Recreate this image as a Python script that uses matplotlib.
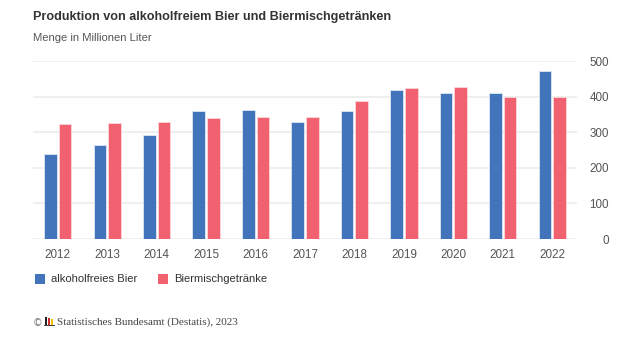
import numpy as np
import matplotlib.pyplot as plt
from matplotlib.patches import Rectangle

years = ['2012', '2013', '2014', '2015', '2016', '2017', '2018', '2019', '2020', '2021', '2022']
alkoholfrei = [240, 263, 291, 359, 362, 329, 360, 418, 409, 409, 472]
biermisch = [322, 325, 329, 339, 342, 342, 388, 425, 428, 400, 400]
series_names = ['alkoholfreies Bier', 'Biermischgetränke']

blue = '#4174BA'
pink = '#F2616F'
text_grey = '#555555'

plt.rcParams['font.family'] = ['Liberation Sans', 'DejaVu Sans']

fig = plt.figure(figsize=(6.42, 3.38), dpi=100)
W, H = 642, 338
# plot area from x=33..577, y=61..239 (pixels)
ax = fig.add_axes([33 / W, 1 - 239 / H, (577 - 33) / W, (239 - 61) / H])

x = np.arange(len(years))
bw = 0.255
off = bw / 2 + 0.02
ax.bar(x - off, alkoholfrei, bw, color=blue, edgecolor='#dfe7f3', linewidth=0.6, zorder=3)
ax.bar(x + off, biermisch, bw, color=pink, edgecolor='#fbd7dc', linewidth=0.6, zorder=3)

ax.set_xlim(-0.5, len(years) - 0.5)
ax.set_ylim(0, 500)
ax.set_yticks(range(0, 501, 100))
ax.yaxis.tick_right()
ax.grid(axis='y', color='#ececec', linewidth=1.2, zorder=0)
ax.set_xticks(x)
ax.set_xticklabels(years)
ax.tick_params(axis='both', length=0, labelsize=8.4, colors=text_grey)
ax.tick_params(axis='y', pad=23)
ax.tick_params(axis='x', pad=7)
for lbl in ax.get_yticklabels():
    lbl.set_horizontalalignment('right')
for s in ax.spines.values():
    s.set_visible(False)

fig.text(33 / W, 1 - 17 / H, 'Produktion von alkoholfreiem Bier und Biermischgetränken',
         fontsize=9.1, fontweight='bold', color='#333333', va='center')
fig.text(33 / W, 1 - 38 / H, 'Menge in Millionen Liter', fontsize=8.1, color=text_grey, va='center')

# legend
for lx, col, name in [(35, blue, series_names[0]), (158, pink, series_names[1])]:
    fig.patches.append(Rectangle((lx / W, 1 - 284 / H), 10 / W, 10 / H, transform=fig.transFigure,
                                 facecolor=col, edgecolor='none'))
    fig.text((lx + 16) / W, 1 - 279 / H, name, fontsize=8.1, color='#333333', va='center')

# footer with small logo
fig.text(33 / W, 1 - 323 / H, '©', fontsize=7, color='#777777', va='center', family='DejaVu Sans')
for i, col in enumerate(['#222222', '#d22a2a', '#f2c200']):
    fig.patches.append(Rectangle(((45 + i * 3) / W, 1 - 325 / H), 2 / W, (8 - i) / H,
                                 transform=fig.transFigure, facecolor=col, edgecolor='none'))
fig.patches.append(Rectangle((44 / W, 1 - 326 / H), 11 / W, 1 / H, transform=fig.transFigure,
                             facecolor='#444444', edgecolor='none'))
fig.text(57 / W, 1 - 322 / H, 'Statistisches Bundesamt (Destatis), 2023', fontsize=8.0,
         color='#444444', va='center', family='Liberation Serif')

fig.savefig('out.png', dpi=100)
